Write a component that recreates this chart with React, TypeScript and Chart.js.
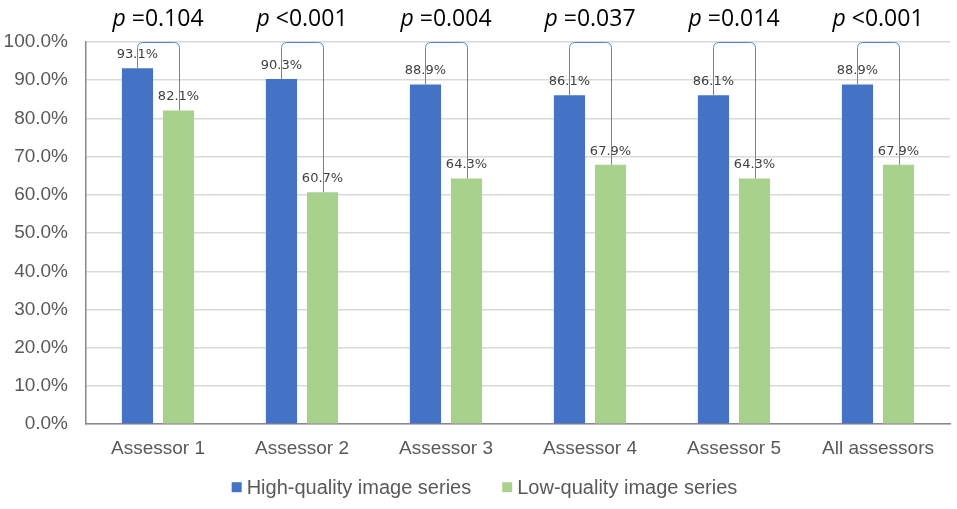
import React, { useEffect, useRef } from "react";
import { Chart, registerables } from "chart.js";

Chart.register(...registerables);

const categories = ["Assessor 1", "Assessor 2", "Assessor 3", "Assessor 4", "Assessor 5", "All assessors"];
const highQuality = [93.1, 90.3, 88.9, 86.1, 86.1, 88.9];
const lowQuality = [82.1, 60.7, 64.3, 67.9, 64.3, 67.9];
const pValues = ["=0.104", "<0.001", "=0.004", "=0.037", "=0.014", "<0.001"];
const seriesNames = ["High-quality image series", "Low-quality image series"];

const BLUE = "#4472C4";
const GREEN = "#A9D18E";
const FONT = "'Liberation Sans', Arial, sans-serif";

const annotationPlugin = {
  id: "annot",
  afterDatasetsDraw(chart: any) {
    const ctx = chart.ctx;
    const yScale = chart.scales.y;
    const m0 = chart.getDatasetMeta(0);
    const m1 = chart.getDatasetMeta(1);
    const topY = yScale.getPixelForValue(100);
    ctx.save();
    // data labels
    ctx.font = "13px 'DejaVu Sans', sans-serif";
    ctx.fillStyle = "#404040";
    ctx.textAlign = "center";
    ctx.textBaseline = "bottom";
    [m0, m1].forEach((m: any, di: number) => {
      const vals = di === 0 ? highQuality : lowQuality;
      m.data.forEach((bar: any, i: number) => {
        ctx.fillText(vals[i].toFixed(1) + "%", bar.x, bar.y - 7);
      });
    });
    // brackets
    ctx.strokeStyle = "#5B84CC";
    ctx.lineWidth = 1;
    const r = 5;
    for (let i = 0; i < categories.length; i++) {
      const b0 = m0.data[i];
      const b1 = m1.data[i];
      const x0 = Math.round(b0.x) + 0.5;
      const x1 = Math.round(b1.x) + 0.5;
      const ty = Math.round(topY) + 0.5;
      ctx.beginPath();
      ctx.moveTo(x0, b0.y);
      ctx.arcTo(x0, ty, x0 + r, ty, r);
      ctx.arcTo(x1, ty, x1, ty + r, r);
      ctx.lineTo(x1, b1.y);
      ctx.stroke();
      // p text
      const cx = (b0.x + b1.x) / 2;
      const italic = "italic 23px 'Open Sans', sans-serif";
      const normal = "23px 'Open Sans', sans-serif";
      ctx.font = italic;
      const wp = ctx.measureText("p ").width;
      ctx.font = normal;
      const wr = ctx.measureText(pValues[i]).width;
      const start = cx - (wp + wr) / 2;
      ctx.fillStyle = "#000000";
      ctx.textAlign = "left";
      ctx.textBaseline = "middle";
      ctx.font = italic;
      ctx.fillText("p", start, topY - 23);
      ctx.font = normal;
      ctx.fillText(pValues[i], start + wp, topY - 23);
    }
    ctx.restore();
  },
  afterDraw(chart: any) {
    // legend
    const ctx = chart.ctx;
    ctx.save();
    ctx.font = `20px ${FONT}`;
    const colors = [BLUE, GREEN];
    const box = 10;
    const gapBox = 5;
    const gapItem = 31;
    const widths = seriesNames.map((s) => ctx.measureText(s).width);
    const total = widths.reduce((a, w) => a + box + gapBox + w, 0) + gapItem;
    let x = chart.width / 2 + 6 - total / 2;
    const y = chart.chartArea.bottom + 63;
    ctx.textBaseline = "middle";
    ctx.textAlign = "left";
    seriesNames.forEach((s, i) => {
      ctx.fillStyle = colors[i];
      ctx.fillRect(x, y - box / 2, box, box);
      ctx.fillStyle = "#595959";
      ctx.fillText(s, x + box + gapBox, y + 1);
      x += box + gapBox + widths[i] + gapItem;
    });
    ctx.restore();
  },
};

export default function App() {
  const ref = useRef<HTMLCanvasElement>(null);
  useEffect(() => {
    document.body.style.margin = "0";
    const chart = new Chart(ref.current!, {
      type: "bar",
      data: {
        labels: categories,
        datasets: [
          {
            label: seriesNames[0],
            data: highQuality,
            backgroundColor: BLUE,
            categoryPercentage: 0.57,
            barPercentage: 0.76,
          },
          {
            label: seriesNames[1],
            data: lowQuality,
            backgroundColor: GREEN,
            categoryPercentage: 0.57,
            barPercentage: 0.76,
          },
        ],
      },
      options: {
        animation: false,
        responsive: false,
        layout: { padding: { top: 42, right: 7, left: 0, bottom: 36 } },
        scales: {
          x: {
            grid: { display: false, drawTicks: false },
            border: { color: "#898989", width: 1.5 },
            ticks: {
              color: "#595959",
              font: { family: FONT, size: 19 },
              padding: 13,
            },
          },
          y: {
            min: 0,
            max: 100,
            afterFit: (scale: any) => {
              scale.width = 86;
            },
            ticks: {
              stepSize: 10,
              color: "#595959",
              font: { family: FONT, size: 19 },
              padding: 18,
              callback: (v: any) => Number(v).toFixed(1) + "%",
            },
            grid: { color: "#D9D9D9", lineWidth: 1.5, drawTicks: false },
            border: { color: "#898989", width: 1.5 },
          },
        },
        plugins: {
          legend: { display: false },
          tooltip: { enabled: false },
        },
      },
      plugins: [annotationPlugin],
    } as any);
    return () => chart.destroy();
  }, []);
  return <canvas ref={ref} width={957} height={509} />;
}
